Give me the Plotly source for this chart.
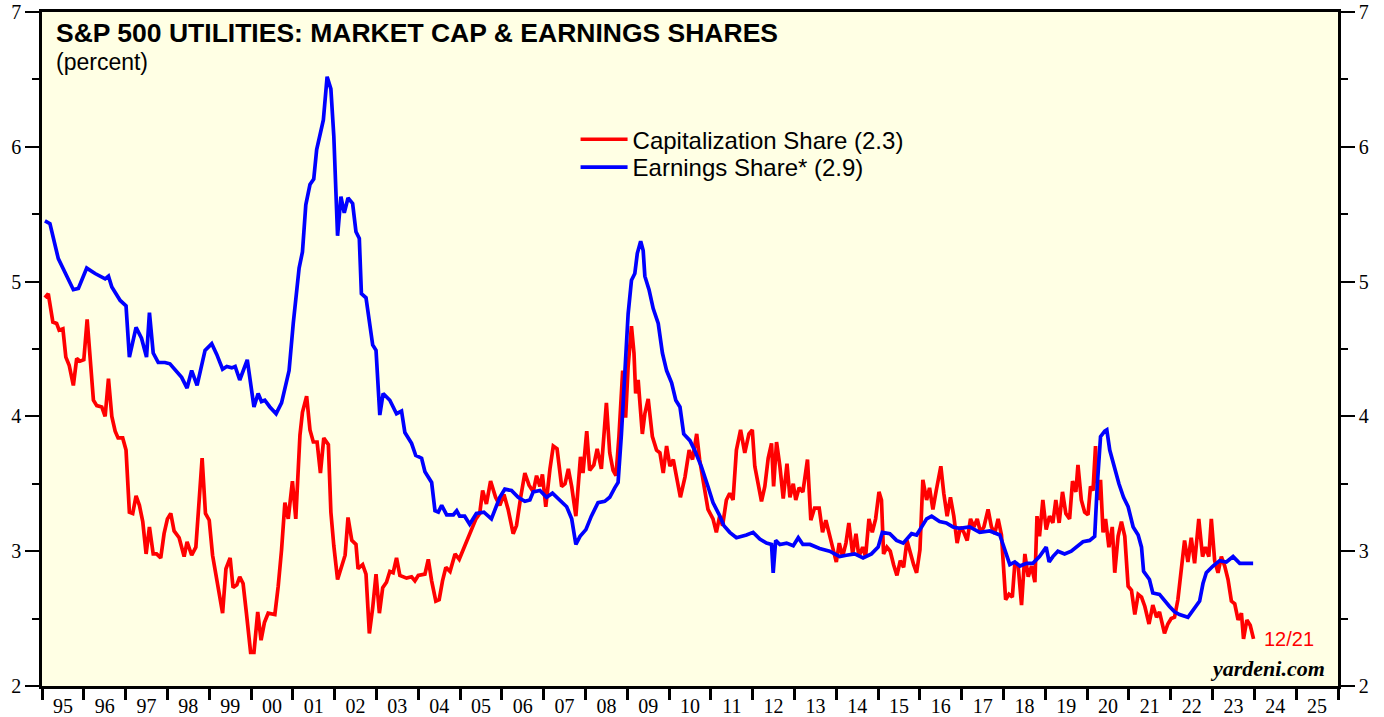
import plotly.graph_objects as go

# ---- data (decimal years, percent) ----
cap_years = [1995.07,1995.15,1995.26,1995.35,1995.41,1995.50,1995.57,1995.65,1995.75,1995.83,1995.91,1996.00,1996.08,1996.15,1996.23,1996.31,1996.43,1996.51,1996.59,1996.67,1996.75,1996.82,1996.93,1997.01,1997.09,1997.17,1997.25,1997.33,1997.41,1997.49,1997.57,1997.66,1997.74,1997.84,1997.92,1998.00,1998.08,1998.16,1998.28,1998.40,1998.47,1998.58,1998.68,1998.76,1998.83,1998.91,1999.00,1999.08,1999.22,1999.32,1999.40,1999.50,1999.57,1999.66,1999.73,1999.81,1999.89,1999.99,2000.07,2000.16,2000.24,2000.32,2000.41,2000.57,2000.65,2000.73,2000.81,2000.89,2000.99,2001.07,2001.17,2001.23,2001.33,2001.41,2001.49,2001.58,2001.66,2001.74,2001.85,2001.91,2001.98,2002.07,2002.25,2002.32,2002.41,2002.51,2002.56,2002.67,2002.75,2002.83,2002.91,2002.99,2003.07,2003.15,2003.24,2003.32,2003.40,2003.48,2003.56,2003.72,2003.84,2003.92,2004.00,2004.16,2004.24,2004.32,2004.42,2004.50,2004.58,2004.66,2004.76,2004.88,2004.98,2005.07,2005.16,2005.28,2005.38,2005.47,2005.54,2005.63,2005.73,2005.85,2005.95,2006.05,2006.15,2006.27,2006.35,2006.45,2006.55,2006.65,2006.75,2006.83,2006.91,2006.97,2007.05,2007.15,2007.23,2007.32,2007.43,2007.51,2007.59,2007.67,2007.77,2007.88,2007.94,2008.03,2008.10,2008.20,2008.28,2008.38,2008.50,2008.58,2008.66,2008.73,2008.80,2008.89,2008.96,2009.02,2009.10,2009.16,2009.20,2009.26,2009.36,2009.42,2009.50,2009.60,2009.70,2009.78,2009.86,2009.94,2010.02,2010.10,2010.18,2010.27,2010.38,2010.48,2010.56,2010.66,2010.73,2010.83,2010.93,2011.05,2011.13,2011.21,2011.28,2011.37,2011.45,2011.53,2011.61,2011.71,2011.81,2011.91,2011.99,2012.05,2012.13,2012.21,2012.29,2012.37,2012.45,2012.50,2012.57,2012.65,2012.73,2012.82,2012.89,2012.97,2013.03,2013.11,2013.20,2013.31,2013.39,2013.48,2013.59,2013.67,2013.75,2013.83,2013.91,2014.00,2014.07,2014.15,2014.23,2014.30,2014.39,2014.47,2014.54,2014.63,2014.70,2014.78,2014.86,2014.94,2015.02,2015.08,2015.13,2015.21,2015.29,2015.37,2015.45,2015.53,2015.61,2015.69,2015.77,2015.85,2015.92,2016.00,2016.07,2016.16,2016.23,2016.31,2016.39,2016.50,2016.57,2016.65,2016.73,2016.81,2016.89,2016.97,2017.05,2017.13,2017.21,2017.29,2017.37,2017.45,2017.53,2017.63,2017.71,2017.79,2017.87,2017.95,2018.05,2018.13,2018.21,2018.27,2018.35,2018.43,2018.51,2018.59,2018.67,2018.75,2018.80,2018.86,2018.94,2019.02,2019.10,2019.18,2019.25,2019.33,2019.41,2019.49,2019.58,2019.65,2019.73,2019.78,2019.86,2019.94,2020.02,2020.08,2020.14,2020.20,2020.26,2020.32,2020.38,2020.44,2020.52,2020.60,2020.66,2020.74,2020.82,2020.90,2020.98,2021.06,2021.14,2021.22,2021.30,2021.38,2021.48,2021.57,2021.66,2021.73,2021.85,2021.93,2022.01,2022.09,2022.17,2022.25,2022.33,2022.41,2022.49,2022.57,2022.67,2022.76,2022.83,2022.91,2022.97,2023.05,2023.13,2023.21,2023.29,2023.37,2023.45,2023.53,2023.61,2023.69,2023.74,2023.82,2023.90,2023.98]
cap_share = [4.88,4.91,4.70,4.69,4.64,4.65,4.44,4.38,4.23,4.43,4.41,4.42,4.72,4.42,4.12,4.08,4.07,4.00,4.28,4.00,3.89,3.84,3.84,3.75,3.29,3.28,3.41,3.34,3.22,2.98,3.18,2.98,2.98,2.95,3.13,3.24,3.28,3.15,3.10,2.96,3.07,2.97,3.03,3.38,3.69,3.28,3.23,2.97,2.74,2.54,2.87,2.95,2.73,2.75,2.81,2.76,2.54,2.25,2.25,2.55,2.34,2.47,2.54,2.53,2.74,3.01,3.36,3.24,3.52,3.24,3.86,4.03,4.15,3.90,3.81,3.81,3.58,3.84,3.79,3.29,3.04,2.79,2.97,3.25,3.08,3.05,2.87,2.90,2.83,2.39,2.58,2.83,2.54,2.73,2.77,2.85,2.84,2.95,2.82,2.80,2.81,2.78,2.82,2.83,2.94,2.78,2.63,2.64,2.78,2.88,2.85,2.98,2.94,3.01,3.08,3.17,3.24,3.28,3.45,3.35,3.52,3.40,3.34,3.42,3.31,3.13,3.19,3.40,3.58,3.49,3.44,3.56,3.48,3.57,3.33,3.61,3.78,3.76,3.48,3.50,3.61,3.48,3.26,3.70,3.58,3.89,3.60,3.64,3.76,3.61,4.10,3.73,3.60,3.56,3.85,4.34,3.99,4.37,4.67,4.47,4.17,4.27,3.87,4.02,4.13,3.85,3.75,3.73,3.58,3.78,3.63,3.68,3.53,3.40,3.55,3.75,3.68,3.87,3.68,3.50,3.31,3.24,3.14,3.26,3.19,3.38,3.43,3.38,3.75,3.90,3.73,3.87,3.90,3.63,3.48,3.37,3.48,3.69,3.80,3.48,3.81,3.63,3.39,3.65,3.40,3.50,3.38,3.47,3.44,3.68,3.23,3.32,3.32,3.14,3.23,3.12,3.03,2.92,3.06,2.96,3.06,3.21,2.98,3.13,2.96,3.03,2.96,3.24,3.14,3.24,3.44,3.38,2.98,3.03,3.00,2.90,2.82,2.93,2.88,3.08,2.98,2.90,2.84,3.01,3.53,3.38,3.47,3.31,3.45,3.63,3.43,3.26,3.40,3.26,3.06,3.18,3.14,3.08,3.24,3.18,3.24,3.14,3.18,3.31,3.18,3.13,3.24,3.12,2.64,2.68,2.66,2.91,2.89,2.60,2.98,2.81,2.89,2.77,3.26,3.11,3.38,3.16,3.26,3.21,3.38,3.21,3.44,3.28,3.24,3.52,3.44,3.64,3.38,3.29,3.27,3.48,3.45,3.78,3.38,3.53,3.14,3.24,3.03,3.18,2.84,3.11,3.22,3.11,2.74,2.71,2.53,2.68,2.66,2.59,2.46,2.60,2.51,2.55,2.39,2.46,2.50,2.51,2.64,2.89,3.08,2.92,3.10,2.91,3.24,2.96,3.03,2.96,3.24,2.93,2.84,2.96,2.89,2.79,2.63,2.61,2.49,2.54,2.35,2.49,2.45,2.35]

earn_years = [1995.07,1995.19,1995.39,1995.55,1995.75,1995.87,1996.07,1996.27,1996.39,1996.51,1996.59,1996.67,1996.87,1997.01,1997.09,1997.25,1997.38,1997.50,1997.57,1997.66,1997.78,1997.94,1998.06,1998.22,1998.34,1998.47,1998.58,1998.71,1998.90,1999.06,1999.18,1999.32,1999.42,1999.54,1999.62,1999.73,1999.91,2000.07,2000.17,2000.25,2000.33,2000.45,2000.60,2000.73,2000.91,2001.01,2001.15,2001.23,2001.31,2001.41,2001.50,2001.57,2001.73,2001.82,2001.91,2001.98,2002.07,2002.15,2002.23,2002.32,2002.43,2002.51,2002.59,2002.64,2002.75,2002.91,2002.99,2003.08,2003.16,2003.32,2003.48,2003.60,2003.68,2003.84,2003.94,2004.08,2004.16,2004.32,2004.40,2004.48,2004.56,2004.68,2004.84,2004.92,2004.99,2005.11,2005.23,2005.39,2005.57,2005.75,2005.95,2006.07,2006.23,2006.39,2006.55,2006.67,2006.75,2006.91,2007.07,2007.21,2007.39,2007.55,2007.67,2007.77,2007.87,2008.01,2008.14,2008.30,2008.46,2008.58,2008.70,2008.78,2008.86,2008.94,2009.02,2009.10,2009.18,2009.24,2009.32,2009.38,2009.42,2009.52,2009.62,2009.74,2009.84,2009.94,2010.06,2010.16,2010.26,2010.35,2010.50,2010.61,2010.77,2010.93,2011.05,2011.20,2011.31,2011.45,2011.61,2011.85,2012.01,2012.17,2012.33,2012.45,2012.49,2012.55,2012.65,2012.81,2012.97,2013.09,2013.20,2013.37,2013.60,2013.84,2014.08,2014.24,2014.44,2014.64,2014.84,2015.00,2015.10,2015.28,2015.44,2015.60,2015.80,2015.92,2016.06,2016.16,2016.28,2016.47,2016.63,2016.79,2016.95,2017.19,2017.43,2017.67,2017.91,2018.03,2018.15,2018.27,2018.39,2018.55,2018.70,2018.86,2019.02,2019.09,2019.18,2019.30,2019.46,2019.62,2019.74,2019.90,2020.06,2020.18,2020.24,2020.32,2020.42,2020.47,2020.54,2020.66,2020.76,2020.87,2020.98,2021.10,2021.22,2021.30,2021.35,2021.49,2021.57,2021.73,2021.85,2021.97,2022.09,2022.21,2022.41,2022.53,2022.69,2022.77,2022.85,2023.01,2023.17,2023.33,2023.49,2023.65,2023.81,2023.97]
earn_share = [5.45,5.43,5.17,5.07,4.94,4.95,5.10,5.06,5.04,5.02,5.04,4.96,4.86,4.82,4.44,4.66,4.58,4.44,4.77,4.47,4.40,4.40,4.39,4.33,4.29,4.21,4.34,4.23,4.49,4.54,4.46,4.35,4.37,4.36,4.37,4.27,4.42,4.07,4.17,4.11,4.12,4.07,4.02,4.10,4.34,4.69,5.10,5.22,5.57,5.72,5.76,5.98,6.20,6.52,6.43,6.08,5.34,5.63,5.51,5.62,5.58,5.37,5.32,4.91,4.88,4.53,4.49,4.01,4.17,4.12,4.02,4.04,3.88,3.80,3.71,3.69,3.59,3.51,3.30,3.29,3.34,3.27,3.27,3.30,3.26,3.26,3.20,3.28,3.29,3.24,3.40,3.46,3.45,3.40,3.37,3.38,3.44,3.45,3.40,3.43,3.38,3.33,3.24,3.05,3.11,3.16,3.26,3.36,3.37,3.40,3.47,3.51,3.87,4.37,4.76,5.01,5.06,5.21,5.30,5.23,5.04,4.94,4.80,4.69,4.47,4.34,4.25,4.12,4.07,3.87,3.82,3.75,3.63,3.48,3.36,3.27,3.19,3.14,3.10,3.12,3.14,3.09,3.06,3.05,2.84,3.08,3.05,3.06,3.04,3.10,3.05,3.05,3.02,3.00,2.96,2.97,2.98,2.95,2.98,3.03,3.14,3.13,3.08,3.06,3.13,3.12,3.19,3.24,3.26,3.22,3.21,3.18,3.17,3.18,3.14,3.15,3.12,3.00,2.90,2.92,2.89,2.91,2.91,2.96,3.03,2.92,2.96,3.00,2.98,3.00,3.03,3.07,3.08,3.11,3.48,3.85,3.89,3.90,3.75,3.60,3.50,3.40,3.33,3.18,3.12,3.03,2.85,2.79,2.69,2.68,2.63,2.59,2.55,2.53,2.51,2.56,2.63,2.76,2.84,2.89,2.93,2.92,2.96,2.91,2.91,2.91]

year_ticks = list(range(1995, 2026))
year_labels = [f"{y % 100:02d}" for y in year_ticks]
y_ticks = [2, 3, 4, 5, 6, 7]

cap_name = "Capitalization Share (2.3)"
earn_name = "Earnings Share* (2.9)"
title_text = "S&P 500 UTILITIES: MARKET CAP & EARNINGS SHARES"
subtitle_text = "(percent)"
last_label = "12/21"
source_text = "yardeni.com"

RED = "#FF0000"
BLUE = "#0000FF"
SERIF = "Liberation Serif, Times New Roman, serif"
SANS = "Liberation Sans, Arial, sans-serif"

fig = go.Figure()
fig.add_trace(go.Scatter(x=cap_years, y=cap_share, mode="lines", name=cap_name,
                         legend="legend", line=dict(color=RED, width=3.7)))
fig.add_trace(go.Scatter(x=earn_years, y=earn_share, mode="lines", name=earn_name,
                         legend="legend2", line=dict(color=BLUE, width=3.7)))
# invisible trace to carry the right-hand axis
fig.add_trace(go.Scatter(x=[year_ticks[0]], y=[y_ticks[0]], yaxis="y2", mode="lines",
                         showlegend=False, hoverinfo="skip", opacity=0))

axis_common = dict(showgrid=False, zeroline=False, showline=True, linecolor="black",
                   linewidth=2.5, automargin=False,
                   tickfont=dict(family=SERIF, size=20, color="black"))

legend_common = dict(xanchor="left", yanchor="top", bgcolor="rgba(0,0,0,0)",
                     font=dict(family=SANS, size=24, color="black"), itemwidth=47)

fig.update_layout(
    width=1384, height=717, autosize=False,
    margin=dict(l=42, r=46, t=12, b=31, pad=0),
    paper_bgcolor="white", plot_bgcolor="#FFFFE4",
    showlegend=True,
    legend=dict(x=0.4117, y=0.844, **legend_common),
    legend2=dict(x=0.4117, y=0.8027, **legend_common),
    xaxis=dict(range=[1995, 2026], tickmode="array",
               tickvals=[y + 0.5 for y in year_ticks], ticktext=year_labels,
               ticks="", ticklen=0, mirror=True, ticklabelstandoff=0,
               minor=dict(tickmode="array", tickvals=year_ticks + [2026], ticks="outside",
                          ticklen=11, tickwidth=2.5, tickcolor="black"),
               **axis_common),
    yaxis=dict(range=[2, 7], tickmode="array", tickvals=y_ticks, ticks="outside",
               ticklen=14, tickwidth=2, tickcolor="black", mirror=True,
               minor=dict(dtick=0.5, tick0=2, ticks="outside", ticklen=7,
                          tickwidth=2, tickcolor="black"),
               **axis_common),
    yaxis2=dict(range=[2, 7], overlaying="y", side="right", tickmode="array",
                tickvals=y_ticks, ticks="outside", ticklen=14, tickwidth=2,
                tickcolor="black",
                minor=dict(dtick=0.5, tick0=2, ticks="outside", ticklen=7,
                           tickwidth=2, tickcolor="black"),
                **axis_common),
    annotations=[
        dict(text=f"<b>{title_text}</b>", xref="paper", yref="paper", x=0.0093, y=0.969,
             xanchor="left", yanchor="middle", showarrow=False,
             font=dict(family=SANS, size=26.5, color="black")),
        dict(text=subtitle_text, xref="paper", yref="paper", x=0.0093, y=0.926,
             xanchor="left", yanchor="middle", showarrow=False,
             font=dict(family=SANS, size=23, color="black")),
        dict(text=last_label, xref="paper", yref="paper", x=0.9414, y=0.0697,
             xanchor="left", yanchor="middle", showarrow=False,
             font=dict(family=SANS, size=20, color=RED)),
        dict(text=f"<b><i>{source_text}</i></b>", xref="paper", yref="paper", x=0.9915,
             y=0.0267, xanchor="right", yanchor="middle", showarrow=False,
             font=dict(family=SERIF, size=22, color="black")),
    ],
)

fig.write_html("out.html", config={"displayModeBar": False},
               post_script="document.body.style.margin='0';")
